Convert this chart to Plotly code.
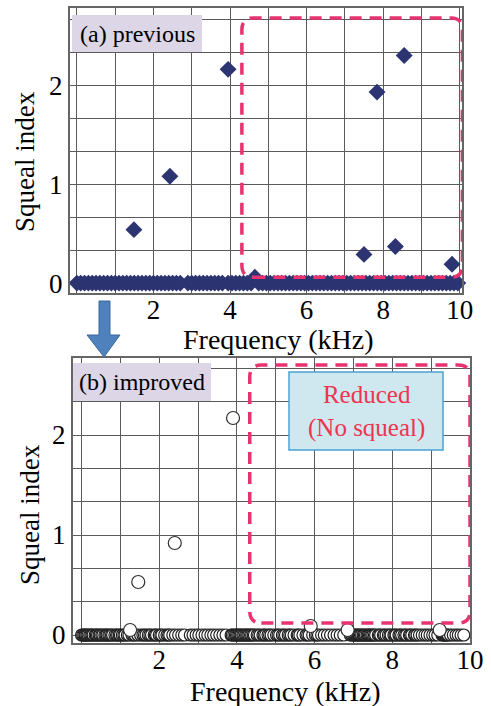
import plotly.graph_objects as go

W, H = 491, 706

# ---- data ----
prev_x = [1.49, 2.43, 3.95, 4.65, 7.50, 7.84, 8.32, 8.55, 9.80]
prev_y = [0.54, 1.08, 2.16, 0.06, 0.29, 1.93, 0.37, 2.30, 0.19]
prev_zero_x = [0.0, 0.1, 0.2, 0.3, 0.4, 0.5, 0.6, 0.7, 0.8, 0.9, 1.0, 1.1, 1.2, 1.3, 1.4,
               1.5, 1.6, 1.7, 1.8, 1.9, 2.0, 2.1, 2.2, 2.3, 2.4, 2.5, 2.6, 2.7,
               2.9, 3.0, 3.1, 3.2, 3.3, 3.4, 3.5, 3.6, 3.7, 3.8,
               3.95, 4.05, 4.15, 4.25, 4.35, 4.45, 4.55, 4.75, 4.85, 4.95, 5.05, 5.15,
               5.25, 5.35, 5.45, 5.55, 5.65, 5.75, 5.85, 5.95, 6.05, 6.15, 6.25, 6.35,
               6.45, 6.55, 6.65, 6.75, 6.85, 6.95, 7.05, 7.15, 7.25, 7.35, 7.45, 7.55,
               7.65, 7.75, 7.85, 7.95, 8.05, 8.15, 8.25, 8.35, 8.45, 8.55, 8.65, 8.75,
               8.85, 8.95, 9.05, 9.15, 9.25, 9.35, 9.45, 9.55, 9.65, 9.75, 9.85, 9.95]
prev_zero_y = [0.0] * len(prev_zero_x)

impr_x = [1.46, 2.40, 3.90, 1.25, 5.90, 6.85, 9.22]
impr_y = [0.53, 0.92, 2.17, 0.05, 0.09, 0.05, 0.05]
impr_zero_x = [0.0, 0.03, 0.06, 0.09, 0.11, 0.14, 0.17, 0.21, 0.24, 0.27, 0.3, 0.35, 0.38,
               0.41, 0.45, 0.48, 0.52, 0.55, 0.6, 0.63, 0.66, 0.7, 0.73, 0.77, 0.8, 0.86,
               0.9, 0.93, 0.97, 1.0, 1.05, 1.09, 1.12, 1.18, 1.22, 1.3, 1.34, 1.38, 1.45,
               1.52, 1.58, 1.62, 1.66, 1.72, 1.76, 1.8, 1.87, 1.9, 1.93, 2.0, 2.04, 2.07,
               2.14, 2.2, 2.24, 2.27, 2.35, 2.42, 2.5, 2.58, 2.65, 2.8, 2.87, 2.95, 3.02,
               3.1, 3.18, 3.25, 3.33, 3.4, 3.48, 3.56, 3.64, 3.72, 3.85, 3.88, 3.92, 3.96,
               3.99, 4.02, 4.05, 4.08, 4.11, 4.15, 4.18, 4.22, 4.25, 4.28, 4.31, 4.35,
               4.38, 4.42, 4.45, 4.52, 4.56, 4.6, 4.67, 4.7, 4.74, 4.8, 4.84, 4.88, 4.95,
               5.02, 5.06, 5.1, 5.17, 5.21, 5.25, 5.32, 5.36, 5.4, 5.47, 5.55, 5.58, 5.62,
               5.7, 5.78, 5.82, 5.86, 5.95, 6.02, 6.06, 6.1, 6.18, 6.25, 6.33, 6.41, 6.5,
               6.58, 6.66, 6.75, 6.92, 6.96, 7.0, 7.03, 7.06, 7.09, 7.12, 7.15, 7.18, 7.21,
               7.25, 7.28, 7.31, 7.35, 7.38, 7.41, 7.44, 7.47, 7.5, 7.54, 7.57, 7.64, 7.67,
               7.7, 7.77, 7.8, 7.84, 7.9, 7.94, 7.97, 8.04, 8.07, 8.1, 8.17, 8.2, 8.24,
               8.3, 8.34, 8.37, 8.44, 8.47, 8.5, 8.57, 8.6, 8.64, 8.7, 8.77, 8.84, 8.9,
               8.97, 9.04, 9.1, 9.17, 9.28, 9.31, 9.33, 9.36, 9.38, 9.41, 9.44, 9.5, 9.57,
               9.64, 9.7, 9.77, 9.84]
impr_zero_y = [0.0] * len(impr_zero_x)

x_tick_vals = [2, 4, 6, 8, 10]
y_tick_vals = [0, 1, 2]

# ---- styling ----
FONT = "Liberation Serif"
NAVY = "#2c3471"
PINK = "#e8336e"
GRID = "#5a5a5a"


def px(x):
    return x / W


def py(y):
    return 1 - y / H


fig = go.Figure()

fig.add_trace(go.Scatter(x=prev_zero_x, y=prev_zero_y, mode="markers", xaxis="x", yaxis="y",
                         marker=dict(symbol="diamond", size=13, color=NAVY), cliponaxis=False,
                         showlegend=False))
fig.add_trace(go.Scatter(x=prev_x, y=prev_y, mode="markers", xaxis="x", yaxis="y",
                         marker=dict(symbol="diamond", size=13, color=NAVY), cliponaxis=False,
                         showlegend=False))
fig.add_trace(go.Scatter(x=impr_zero_x, y=impr_zero_y, mode="markers", xaxis="x2", yaxis="y2",
                         marker=dict(symbol="circle", size=12, color="white",
                                     line=dict(color="#202020", width=1.2)), cliponaxis=False,
                         showlegend=False))
fig.add_trace(go.Scatter(x=impr_x, y=impr_y, mode="markers", xaxis="x2", yaxis="y2",
                         marker=dict(symbol="circle", size=13, color="white",
                                     line=dict(color="#303030", width=1.2)), cliponaxis=False,
                         showlegend=False))

xaxis_common = dict(tickmode="array", tickvals=x_tick_vals, ticks="", showgrid=True,
                    gridcolor=GRID, gridwidth=1, automargin=False, ticklabelstandoff=-8,
                    minor=dict(tick0=0, dtick=1, showgrid=True, gridcolor=GRID, gridwidth=1),
                    showline=True, linecolor="#666", linewidth=2, mirror=True, zeroline=False,
                    tickfont=dict(family=FONT, size=27, color="black"))
yaxis_common = dict(tickmode="array", tickvals=y_tick_vals, ticks="", showgrid=True,
                    gridcolor=GRID, gridwidth=1, automargin=False,
                    minor=dict(tick0=0, dtick=1 / 3, showgrid=True, gridcolor=GRID, gridwidth=1),
                    showline=True, linecolor="#666", linewidth=2, mirror=True, zeroline=False,
                    tickfont=dict(family=FONT, size=27, color="black"))

fig.update_layout(
    width=W, height=H, autosize=False, margin=dict(l=0, r=0, t=0, b=0),
    paper_bgcolor="white", plot_bgcolor="white",
    xaxis=dict(domain=[px(70), px(462)], range=[-0.18, 10.06], anchor="y", **xaxis_common),
    yaxis=dict(domain=[py(293), py(8)], range=[-0.1, 2.78], anchor="x", **yaxis_common),
    xaxis2=dict(domain=[px(73), px(470)], range=[-0.22, 10.0], anchor="y2", **xaxis_common),
    yaxis2=dict(domain=[py(643), py(358)], range=[-0.08, 2.77], anchor="x2", **yaxis_common),
)

annotations = []
# axis titles
for cx, cy in [(278, 339), (285, 691)]:
    annotations.append(dict(x=px(cx), y=py(cy), xref="paper", yref="paper", text="Frequency (kHz)",
                            xanchor="center", yanchor="middle", showarrow=False,
                            font=dict(family=FONT, size=28, color="black")))
for cx, cy in [(25, 162), (30, 515)]:
    annotations.append(dict(x=px(cx), y=py(cy), xref="paper", yref="paper", text="Squeal index",
                            textangle=-90, xanchor="center", yanchor="middle", showarrow=False,
                            font=dict(family=FONT, size=27, color="black")))
annotations.append(dict(x=px(137), y=py(33.5), xref="paper", yref="paper", text="(a) previous",
                        xanchor="center", yanchor="middle", showarrow=False,
                        font=dict(family=FONT, size=24, color="black")))
annotations.append(dict(x=px(142), y=py(382), xref="paper", yref="paper", text="(b) improved",
                        xanchor="center", yanchor="middle", showarrow=False,
                        font=dict(family=FONT, size=24, color="black")))
annotations.append(dict(x=px(366), y=py(411), xref="paper", yref="paper",
                        text="Reduced<br>(No squeal)", xanchor="center", yanchor="middle",
                        showarrow=False, font=dict(family=FONT, size=25, color="#ef3450")))
fig.update_layout(annotations=annotations)

shapes = []
# label boxes
for (x0, y0, x1, y1) in [(72, 15, 202, 52), (73, 363, 211, 401)]:
    shapes.append(dict(type="rect", xref="paper", yref="paper", x0=px(x0), x1=px(x1),
                       y0=py(y1), y1=py(y0), fillcolor="#dcd6e6", line=dict(width=0)))
shapes.append(dict(type="rect", xref="paper", yref="paper", x0=px(289), x1=px(443),
                   y0=py(450), y1=py(372), fillcolor="#cfe7ee",
                   line=dict(color="#4aa3d2", width=1.5)))


def rounded(x0, y0, x1, y1, rx, ry):
    return (f"M {x0+rx},{y0} L {x1-rx},{y0} Q {x1},{y0} {x1},{y0+ry} "
            f"L {x1},{y1-ry} Q {x1},{y1} {x1-rx},{y1} L {x0+rx},{y1} "
            f"Q {x0},{y1} {x0},{y1-ry} L {x0},{y0+ry} Q {x0},{y0} {x0+rx},{y0} Z")


shapes.append(dict(type="path", xref="x", yref="y", path=rounded(4.31, 0.06, 10.07, 2.68, 0.3, 0.12),
                   line=dict(color=PINK, width=3.5, dash="12px,8px")))
shapes.append(dict(type="path", xref="x2", yref="y2", path=rounded(4.33, 0.12, 10.0, 2.70, 0.3, 0.12),
                   line=dict(color=PINK, width=3.5, dash="12px,8px")))

# blue arrow between panels
pts = [(99, 301), (110, 301), (110, 335), (120, 335), (104, 357), (87, 335), (99, 335)]
path = "M " + " L ".join(f"{px(a)},{py(b)}" for a, b in pts) + " Z"
shapes.append(dict(type="path", xref="paper", yref="paper", path=path,
                   fillcolor="#4f81bd", line=dict(color="#3b689e", width=1)))
fig.update_layout(shapes=shapes)

fig.write_html("out.html")
